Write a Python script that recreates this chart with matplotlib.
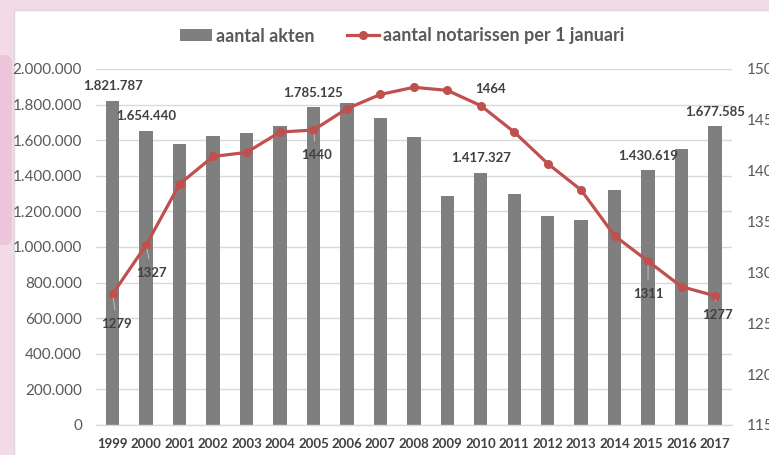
import matplotlib
matplotlib.use("Agg")
import matplotlib.pyplot as plt
from matplotlib.patches import Rectangle, FancyBboxPatch
from matplotlib.ticker import FuncFormatter
import numpy as np

years = ["1999", "2000", "2001", "2002", "2003", "2004", "2005", "2006", "2007", "2008",
         "2009", "2010", "2011", "2012", "2013", "2014", "2015", "2016", "2017"]
akten = [1821787, 1654440, 1580000, 1625000, 1640000, 1680000, 1785125, 1809000, 1723000,
         1620000, 1286000, 1417327, 1296000, 1172000, 1152000, 1320000, 1430619, 1550000, 1677585]
notarissen = [1279, 1327, 1387, 1414, 1418, 1438, 1440, 1461, 1475, 1482,
              1479, 1464, 1438, 1407, 1381, 1336, 1311, 1286, 1277]
bar_label_years = ["1999", "2000", "2005", "2010", "2015", "2017"]
line_label_years = ["1999", "2000", "2005", "2010", "2015", "2017"]
left_ticks = [0, 200000, 400000, 600000, 800000, 1000000, 1200000, 1400000, 1600000, 1800000, 2000000]
right_ticks = [1150, 1200, 1250, 1300, 1350, 1400, 1450, 1500]

FONT = "Lato"
TXT = "#404040"
TICK = "#595959"

W, H = 769, 455
fig = plt.figure(figsize=(W / 100, H / 100), dpi=100)
fig.patch.set_facecolor("#F3DAE7")

# background decoration
bg = fig.add_axes([0, 0, 1, 1], zorder=-10)
bg.set_xlim(0, W); bg.set_ylim(H, 0); bg.axis("off")
bg.add_patch(Rectangle((0, 0), W, H, color="#F3DAE7"))
bg.add_patch(FancyBboxPatch((-20, 55), 32, 190, boxstyle="round,pad=0,rounding_size=8",
                            color="#EDC5DB", lw=0))
bg.add_patch(Rectangle((14, 10), W, H, facecolor="white", edgecolor="#D9D9D9", lw=1))

x0, x1 = 96, 731.7
y0, y1 = 69, 425
ax = fig.add_axes([x0 / W, 1 - y1 / H, (x1 - x0) / W, (y1 - y0) / H])
ax.patch.set_alpha(0)
x = np.arange(len(years))
ax.bar(x, akten, width=0.4, color="#7F7F7F", zorder=2, label="aantal akten")
ax.set_xlim(-0.5, len(years) - 0.5)
ax.set_ylim(0, 2000000)
ax.set_yticks(left_ticks)
ax.yaxis.set_major_formatter(FuncFormatter(lambda v, p: f"{int(v):,}".replace(",", ".")))
ax.grid(axis="y", color="#D9D9D9", lw=1, zorder=0)
for s in ["top", "right", "left"]:
    ax.spines[s].set_visible(False)
ax.spines["bottom"].set_color("#D9D9D9")
ax.spines["bottom"].set_linewidth(1)
ax.set_xticks(x)
ax.set_xticklabels(years)
ax.tick_params(axis="x", length=0, pad=9, labelsize=9.5, labelcolor=TXT)
ax.tick_params(axis="y", length=0, pad=10, labelsize=11, labelcolor=TICK)
for t in ax.get_xticklabels():
    t.set_fontweight("bold"); t.set_fontfamily(FONT)
for t in ax.get_yticklabels():
    t.set_fontfamily(FONT)

ax2 = ax.twinx()
ax2.set_ylim(1150, 1500)
ax2.set_yticks(right_ticks)
ax2.yaxis.set_major_formatter(FuncFormatter(lambda v, p: f"{int(v)}"))
ax2.tick_params(axis="y", length=0, pad=11, labelsize=11, labelcolor=TICK)
for t in ax2.get_yticklabels():
    t.set_fontfamily(FONT)
for s in ax2.spines.values():
    s.set_visible(False)
ax2.plot(x, notarissen, color="#C0504D", lw=2.3, marker="o", ms=5.5, zorder=3,
         label="aantal notarissen per 1 januari")

# bar data labels
for i, y in enumerate(years):
    if y in bar_label_years:
        ax.annotate(f"{akten[i]:,}".replace(",", "."), (x[i], akten[i]), xytext=(0, 10.5),
                    textcoords="offset points", ha="center", va="center", fontsize=9.5,
                    fontweight="bold", color=TXT, family=FONT, zorder=5)

# line data labels (offsets in points)
line_offsets = {"1999": (3, -22), "2000": (4, -20), "2005": (2, -18),
                "2010": (7, 12), "2015": (0, -23.5), "2017": (2, -14)}
for i, y in enumerate(years):
    if y in line_label_years:
        dx, dy = line_offsets[y]
        arrow = None
        if dy < 0:
            arrow = dict(arrowstyle="-", color="#BFBFBF", lw=0.7, shrinkA=4, shrinkB=3)
        ax2.annotate(str(notarissen[i]), (x[i], notarissen[i]), xytext=(dx, dy),
                     textcoords="offset points", ha="center", va="center", fontsize=9.5,
                     fontweight="bold", color=TXT, family=FONT, zorder=6,
                     arrowprops=arrow)

h1, l1 = ax.get_legend_handles_labels()
h2, l2 = ax2.get_legend_handles_labels()
leg = fig.legend(h1 + h2, l1 + l2, loc="center", bbox_to_anchor=(402 / W, 1 - 36 / H),
                 ncol=2, frameon=False, handlelength=1.8, handleheight=0.6, handletextpad=0.2,
                 columnspacing=1.8, prop={"family": FONT, "size": 13, "weight": "bold"})
for t in leg.get_texts():
    t.set_color("#595959")

fig.savefig("out.png", dpi=100, facecolor=fig.get_facecolor())
